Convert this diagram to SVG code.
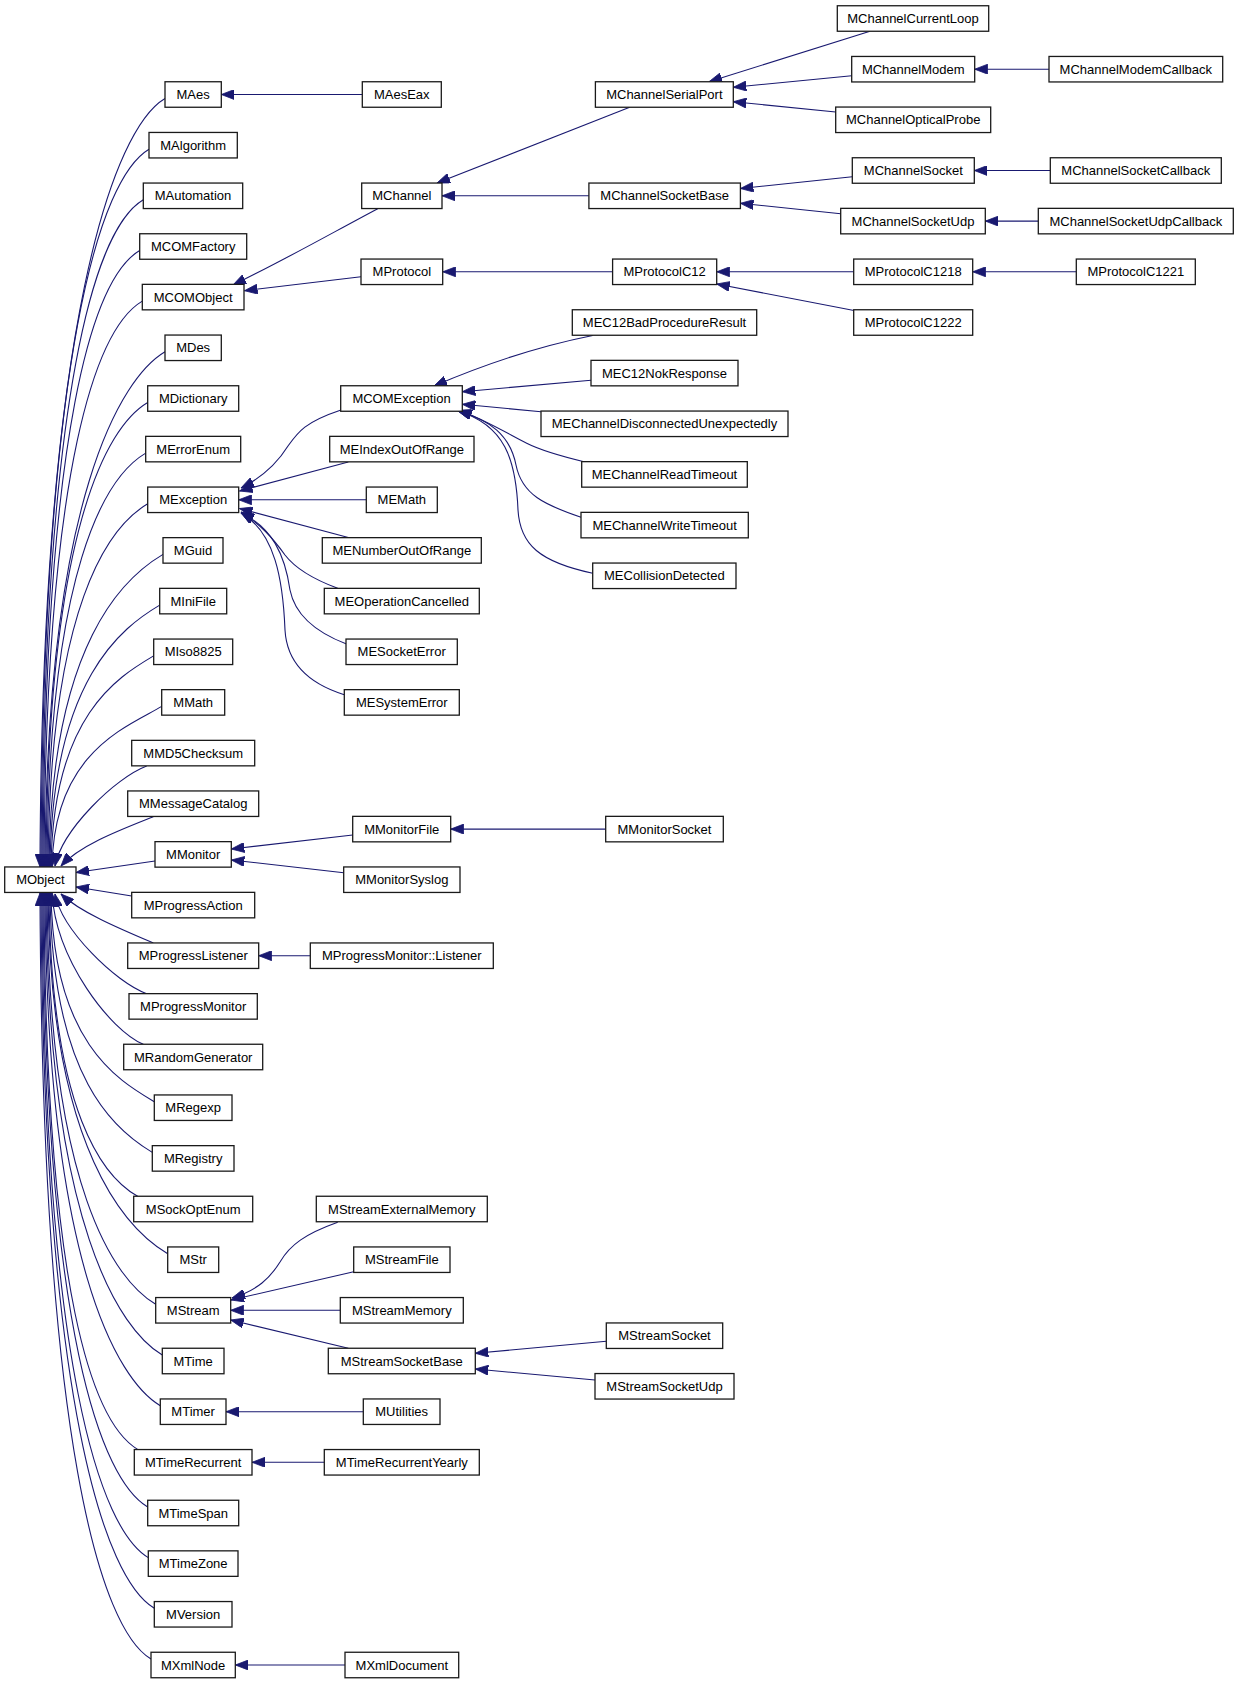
<svg xmlns="http://www.w3.org/2000/svg" width="1239" height="1684" viewBox="0 0 1239 1684">
<style>
.node rect{fill:#fff;stroke:#1a1a1a;stroke-width:1.3}
.node text{font-family:"Liberation Sans",Arial,sans-serif;font-size:13px;text-anchor:middle;fill:#000}
.edge path{fill:none;stroke:#191970;stroke-width:1.1;marker-end:url(#ah)}
</style>
<defs>
<marker id="ah" viewBox="0 0 14 10" refX="13" refY="5" markerWidth="14" markerHeight="10" markerUnits="userSpaceOnUse" orient="auto">
<path d="M0,0 L13,5 L0,10 z" fill="#191970" stroke="#191970" stroke-width="0.8"/>
</marker>
</defs>
<rect x="0" y="0" width="1239" height="1684" fill="#fff"/>
<g id="edges" class="edge">
<path d="M362.3,94.5 L221.3,94.5"/>
<path d="M377.7,208.7 C330,234 290,257 233,285"/>
<path d="M361,276.7 L244.5,290.7"/>
<path d="M629.7,107.3 L437,183"/>
<path d="M588.9,195.8 L442,195.8"/>
<path d="M870,31.3 L709,81.7"/>
<path d="M851.7,75.7 L733.3,87.3"/>
<path d="M835.7,112 L733.3,101.7"/>
<path d="M1049,69.2 L974.7,69.2"/>
<path d="M852.3,176.7 L740.4,188.5"/>
<path d="M840.7,213.7 L740.4,203.3"/>
<path d="M1050.3,170.5 L974.3,170.5"/>
<path d="M1038.3,221.1 L985.3,221.1"/>
<path d="M612.6,271.8 L442.7,271.8"/>
<path d="M853.7,271.8 L716.7,271.8"/>
<path d="M854,310.5 L716.7,284"/>
<path d="M1076.3,271.8 L972.7,271.8"/>
<path d="M341,410 C305,422 298,432 288,446 C278,462 265,476 241,488"/>
<path d="M348.3,462 L239.5,491"/>
<path d="M366.3,499.8 L238.7,499.8"/>
<path d="M348.3,537.5 L239.5,508.5"/>
<path d="M337.7,588.3 C310,578 295,568 285,555 C272,537 260,524 241,512"/>
<path d="M346.5,644 C315,632 295,615 290,590 C285,555 272,527 241,513"/>
<path d="M344.3,694.7 C310,684 287,665 285,630 C283,580 275,532 241,513"/>
<path d="M592.7,335.5 C545,345 490,362 434,386"/>
<path d="M591,380.3 L462.3,391.7"/>
<path d="M541,411.7 L462.3,404.3"/>
<path d="M585,462 C560,456 540,450 526.7,443.3 C505,432 485,420 459,410"/>
<path d="M581,517.3 C545,505 522,495 516,465 C510,435 490,420 458,411"/>
<path d="M592.7,573.3 C540,562 520,545 518,510 C516,460 505,425 458,411"/>
<path d="M352.7,835 L231.3,849"/>
<path d="M343.7,872.7 L231.3,860"/>
<path d="M605.7,829.1 L450.7,829.1"/>
<path d="M310.3,955.7 L258.7,955.7"/>
<path d="M337.7,1222.3 C305,1234 290,1245 280,1262 C270,1278 258,1290 232,1298"/>
<path d="M353.7,1271.7 L231,1300"/>
<path d="M340.3,1310.3 L230.7,1310.3"/>
<path d="M348.3,1348.3 L230.7,1320"/>
<path d="M606.3,1341.3 L475.3,1353.3"/>
<path d="M595,1380 L475.3,1369"/>
<path d="M363.3,1411.7 L226,1411.7"/>
<path d="M324.3,1462.3 L252,1462.3"/>
<path d="M345,1665 L235.3,1665"/>
<path d="M165,98.5 C115,128.1 42,314 40,867"/>
<path d="M149,149.2 C100.4,178 43,350.2 41,867"/>
<path d="M143.3,199.8 C96,227.9 44,386.6 42,867"/>
<path d="M139.7,250.5 C93.7,277.8 45,423.1 43,867"/>
<path d="M142.3,301.1 C97.6,327.6 46,459.6 44,867"/>
<path d="M165,351.8 C121.6,377.6 47,496.1 45,867"/>
<path d="M147.7,402.5 C105.6,427.4 48,532.6 46,867"/>
<path d="M145.7,453.1 C104.9,477.3 49,569 47,867"/>
<path d="M147.7,503.8 C108.2,527.2 50,605.5 48,867"/>
<path d="M163,554.4 C124.8,577 51,641.9 49,867"/>
<path d="M159.7,605.1 C122.8,627 52,678.4 50,867"/>
<path d="M153.7,655.8 C118.2,676.9 53,714.9 51,867"/>
<path d="M161.7,706.4 C127.5,726.7 54,751.4 52,867"/>
<path d="M146.7,766 C115,778 62,830 55,866"/>
<path d="M153.3,816.7 C120,830 80,845 61,866"/>
<path d="M155,861 L76,872.5"/>
<path d="M131.7,896 L76,887"/>
<path d="M153.3,943 C118,928 80,912 61,894"/>
<path d="M146.7,993.7 C115,982 62,930 55,894"/>
<path d="M143.3,1044.3 C110,1030 56,960 52,893"/>
<path d="M154.3,1101.7 C118.8,1080.6 53,1043.3 51,893"/>
<path d="M152.3,1152.4 C115.5,1130.6 52,1079.8 50,893"/>
<path d="M138,1196.5 C105,1178 51,1116 49,893"/>
<path d="M167.7,1253.7 C128.3,1230.3 50,1152.7 48,893"/>
<path d="M155.7,1304.3 C115,1280.2 49,1189.1 47,893"/>
<path d="M162.3,1355 C120.3,1330.1 48,1225.6 46,893"/>
<path d="M160.3,1405.7 C117,1380 47,1262.1 45,893"/>
<path d="M138,1449.6 C93.5,1423.2 46,1298.6 44,893"/>
<path d="M147.7,1507 C101.8,1479.8 45,1335.1 43,893"/>
<path d="M148.3,1557.6 C101.1,1529.6 44,1371.5 42,893"/>
<path d="M154.3,1608.3 C105.7,1579.5 43,1408 41,893"/>
<path d="M151,1659 C101.1,1629.4 42,1444.5 40,893"/>
</g>
<g id="nodes">
<g id="MAes" class="node"><rect x="165" y="81.75" width="56.3" height="25.5"/><text x="193.15" y="99.1">MAes</text></g>
<g id="MAlgorithm" class="node"><rect x="149" y="132.45" width="88.3" height="25.5"/><text x="193.15" y="149.8">MAlgorithm</text></g>
<g id="MAutomation" class="node"><rect x="143.3" y="183.05" width="99.4" height="25.5"/><text x="193" y="200.4">MAutomation</text></g>
<g id="MCOMFactory" class="node"><rect x="139.7" y="233.75" width="107" height="25.5"/><text x="193.2" y="251.1">MCOMFactory</text></g>
<g id="MCOMObject" class="node"><rect x="142.3" y="284.35" width="101.7" height="25.5"/><text x="193.15" y="301.7">MCOMObject</text></g>
<g id="MDes" class="node"><rect x="165" y="335.05" width="56.3" height="25.5"/><text x="193.15" y="352.4">MDes</text></g>
<g id="MDictionary" class="node"><rect x="147.7" y="385.75" width="91" height="25.5"/><text x="193.2" y="403.1">MDictionary</text></g>
<g id="MErrorEnum" class="node"><rect x="145.7" y="436.35" width="95" height="25.5"/><text x="193.2" y="453.7">MErrorEnum</text></g>
<g id="MException" class="node"><rect x="147.7" y="487.05" width="91" height="25.5"/><text x="193.2" y="504.4">MException</text></g>
<g id="MGuid" class="node"><rect x="163" y="537.65" width="60" height="25.5"/><text x="193" y="555">MGuid</text></g>
<g id="MIniFile" class="node"><rect x="159.7" y="588.35" width="67" height="25.5"/><text x="193.2" y="605.7">MIniFile</text></g>
<g id="MIso8825" class="node"><rect x="153.7" y="639.05" width="79" height="25.5"/><text x="193.2" y="656.4">MIso8825</text></g>
<g id="MMath" class="node"><rect x="161.7" y="689.65" width="63" height="25.5"/><text x="193.2" y="707">MMath</text></g>
<g id="MMD5Checksum" class="node"><rect x="131.7" y="740.35" width="123" height="25.5"/><text x="193.2" y="757.7">MMD5Checksum</text></g>
<g id="MMessageCatalog" class="node"><rect x="127.7" y="790.95" width="131" height="25.5"/><text x="193.2" y="808.3">MMessageCatalog</text></g>
<g id="MMonitor" class="node"><rect x="155" y="841.65" width="76.3" height="25.5"/><text x="193.15" y="859">MMonitor</text></g>
<g id="MObject" class="node"><rect x="4.7" y="866.95" width="71.3" height="25.5"/><text x="40.35" y="884.3">MObject</text></g>
<g id="MProgressAction" class="node"><rect x="131.7" y="892.35" width="123" height="25.5"/><text x="193.2" y="909.7">MProgressAction</text></g>
<g id="MProgressListener" class="node"><rect x="127.7" y="942.95" width="131" height="25.5"/><text x="193.2" y="960.3">MProgressListener</text></g>
<g id="MProgressMonitor" class="node"><rect x="129" y="993.65" width="128.3" height="25.5"/><text x="193.15" y="1011">MProgressMonitor</text></g>
<g id="MRandomGenerator" class="node"><rect x="123.7" y="1044.25" width="139" height="25.5"/><text x="193.2" y="1061.6">MRandomGenerator</text></g>
<g id="MRegexp" class="node"><rect x="154.3" y="1094.95" width="77.7" height="25.5"/><text x="193.15" y="1112.3">MRegexp</text></g>
<g id="MRegistry" class="node"><rect x="152.3" y="1145.65" width="81.7" height="25.5"/><text x="193.15" y="1163">MRegistry</text></g>
<g id="MSockOptEnum" class="node"><rect x="133.7" y="1196.25" width="119" height="25.5"/><text x="193.2" y="1213.6">MSockOptEnum</text></g>
<g id="MStr" class="node"><rect x="167.7" y="1246.95" width="51" height="25.5"/><text x="193.2" y="1264.3">MStr</text></g>
<g id="MStream" class="node"><rect x="155.7" y="1297.55" width="75" height="25.5"/><text x="193.2" y="1314.9">MStream</text></g>
<g id="MTime" class="node"><rect x="162.3" y="1348.25" width="61.7" height="25.5"/><text x="193.15" y="1365.6">MTime</text></g>
<g id="MTimer" class="node"><rect x="160.3" y="1398.95" width="65.7" height="25.5"/><text x="193.15" y="1416.3">MTimer</text></g>
<g id="MTimeRecurrent" class="node"><rect x="134.3" y="1449.55" width="117.7" height="25.5"/><text x="193.15" y="1466.9">MTimeRecurrent</text></g>
<g id="MTimeSpan" class="node"><rect x="147.7" y="1500.25" width="91" height="25.5"/><text x="193.2" y="1517.6">MTimeSpan</text></g>
<g id="MTimeZone" class="node"><rect x="148.3" y="1550.85" width="89.7" height="25.5"/><text x="193.15" y="1568.2">MTimeZone</text></g>
<g id="MVersion" class="node"><rect x="154.3" y="1601.55" width="77.7" height="25.5"/><text x="193.15" y="1618.9">MVersion</text></g>
<g id="MXmlNode" class="node"><rect x="151" y="1652.25" width="84.3" height="25.5"/><text x="193.15" y="1669.6">MXmlNode</text></g>
<g id="MAesEax" class="node"><rect x="362.3" y="81.75" width="79" height="25.5"/><text x="401.8" y="99.1">MAesEax</text></g>
<g id="MChannel" class="node"><rect x="361.7" y="183.05" width="80.3" height="25.5"/><text x="401.85" y="200.4">MChannel</text></g>
<g id="MProtocol" class="node"><rect x="361" y="259.05" width="81.7" height="25.5"/><text x="401.85" y="276.4">MProtocol</text></g>
<g id="MCOMException" class="node"><rect x="340.7" y="385.75" width="121.6" height="25.5"/><text x="401.5" y="403.1">MCOMException</text></g>
<g id="MEIndexOutOfRange" class="node"><rect x="329.7" y="436.35" width="144.3" height="25.5"/><text x="401.85" y="453.7">MEIndexOutOfRange</text></g>
<g id="MEMath" class="node"><rect x="366.3" y="487.05" width="71" height="25.5"/><text x="401.8" y="504.4">MEMath</text></g>
<g id="MENumberOutOfRange" class="node"><rect x="322.3" y="537.65" width="159" height="25.5"/><text x="401.8" y="555">MENumberOutOfRange</text></g>
<g id="MEOperationCancelled" class="node"><rect x="324.3" y="588.35" width="155" height="25.5"/><text x="401.8" y="605.7">MEOperationCancelled</text></g>
<g id="MESocketError" class="node"><rect x="346" y="639.05" width="111.3" height="25.5"/><text x="401.65" y="656.4">MESocketError</text></g>
<g id="MESystemError" class="node"><rect x="344.3" y="689.65" width="115" height="25.5"/><text x="401.8" y="707">MESystemError</text></g>
<g id="MMonitorFile" class="node"><rect x="352.7" y="816.35" width="98" height="25.5"/><text x="401.7" y="833.7">MMonitorFile</text></g>
<g id="MMonitorSyslog" class="node"><rect x="343.7" y="866.95" width="116.3" height="25.5"/><text x="401.85" y="884.3">MMonitorSyslog</text></g>
<g id="MProgressMonitor_Listener" class="node"><rect x="310.3" y="942.95" width="183" height="25.5"/><text x="401.8" y="960.3">MProgressMonitor::Listener</text></g>
<g id="MStreamExternalMemory" class="node"><rect x="316.3" y="1196.25" width="171" height="25.5"/><text x="401.8" y="1213.6">MStreamExternalMemory</text></g>
<g id="MStreamFile" class="node"><rect x="353.7" y="1246.95" width="96.3" height="25.5"/><text x="401.85" y="1264.3">MStreamFile</text></g>
<g id="MStreamMemory" class="node"><rect x="340.3" y="1297.55" width="123" height="25.5"/><text x="401.8" y="1314.9">MStreamMemory</text></g>
<g id="MStreamSocketBase" class="node"><rect x="328.3" y="1348.25" width="147" height="25.5"/><text x="401.8" y="1365.6">MStreamSocketBase</text></g>
<g id="MUtilities" class="node"><rect x="363.3" y="1398.95" width="76.7" height="25.5"/><text x="401.65" y="1416.3">MUtilities</text></g>
<g id="MTimeRecurrentYearly" class="node"><rect x="324.3" y="1449.55" width="155" height="25.5"/><text x="401.8" y="1466.9">MTimeRecurrentYearly</text></g>
<g id="MXmlDocument" class="node"><rect x="345" y="1652.25" width="113.7" height="25.5"/><text x="401.85" y="1669.6">MXmlDocument</text></g>
<g id="MChannelSerialPort" class="node"><rect x="595.4" y="81.75" width="137.9" height="25.5"/><text x="664.35" y="99.1">MChannelSerialPort</text></g>
<g id="MChannelSocketBase" class="node"><rect x="588.9" y="183.05" width="151.5" height="25.5"/><text x="664.65" y="200.4">MChannelSocketBase</text></g>
<g id="MProtocolC12" class="node"><rect x="612.6" y="259.05" width="104.1" height="25.5"/><text x="664.65" y="276.4">MProtocolC12</text></g>
<g id="MEC12BadProcedureResult" class="node"><rect x="572.3" y="309.75" width="184.4" height="25.5"/><text x="664.5" y="327.1">MEC12BadProcedureResult</text></g>
<g id="MEC12NokResponse" class="node"><rect x="591" y="360.35" width="147" height="25.5"/><text x="664.5" y="377.7">MEC12NokResponse</text></g>
<g id="MEChannelDisconnectedUnexpectedly" class="node"><rect x="541" y="411.05" width="247" height="25.5"/><text x="664.5" y="428.4">MEChannelDisconnectedUnexpectedly</text></g>
<g id="MEChannelReadTimeout" class="node"><rect x="581.7" y="461.65" width="165.6" height="25.5"/><text x="664.5" y="479">MEChannelReadTimeout</text></g>
<g id="MEChannelWriteTimeout" class="node"><rect x="581" y="512.35" width="167.3" height="25.5"/><text x="664.65" y="529.7">MEChannelWriteTimeout</text></g>
<g id="MECollisionDetected" class="node"><rect x="592.7" y="563.05" width="143.3" height="25.5"/><text x="664.35" y="580.4">MECollisionDetected</text></g>
<g id="MMonitorSocket" class="node"><rect x="605.7" y="816.35" width="117.6" height="25.5"/><text x="664.5" y="833.7">MMonitorSocket</text></g>
<g id="MStreamSocket" class="node"><rect x="606.3" y="1322.95" width="116.4" height="25.5"/><text x="664.5" y="1340.3">MStreamSocket</text></g>
<g id="MStreamSocketUdp" class="node"><rect x="595" y="1373.55" width="139" height="25.5"/><text x="664.5" y="1390.9">MStreamSocketUdp</text></g>
<g id="MChannelCurrentLoop" class="node"><rect x="837.3" y="5.75" width="151.4" height="25.5"/><text x="913" y="23.1">MChannelCurrentLoop</text></g>
<g id="MChannelModem" class="node"><rect x="851.7" y="56.45" width="123" height="25.5"/><text x="913.2" y="73.8">MChannelModem</text></g>
<g id="MChannelOpticalProbe" class="node"><rect x="835.7" y="107.05" width="155" height="25.5"/><text x="913.2" y="124.4">MChannelOpticalProbe</text></g>
<g id="MChannelSocket" class="node"><rect x="852.3" y="157.75" width="122" height="25.5"/><text x="913.3" y="175.1">MChannelSocket</text></g>
<g id="MChannelSocketUdp" class="node"><rect x="840.7" y="208.35" width="144.6" height="25.5"/><text x="913" y="225.7">MChannelSocketUdp</text></g>
<g id="MProtocolC1218" class="node"><rect x="853.7" y="259.05" width="119" height="25.5"/><text x="913.2" y="276.4">MProtocolC1218</text></g>
<g id="MProtocolC1222" class="node"><rect x="853.7" y="309.75" width="119" height="25.5"/><text x="913.2" y="327.1">MProtocolC1222</text></g>
<g id="MChannelModemCallback" class="node"><rect x="1049" y="56.45" width="173.7" height="25.5"/><text x="1135.85" y="73.8">MChannelModemCallback</text></g>
<g id="MChannelSocketCallback" class="node"><rect x="1050.3" y="157.75" width="171" height="25.5"/><text x="1135.8" y="175.1">MChannelSocketCallback</text></g>
<g id="MChannelSocketUdpCallback" class="node"><rect x="1038.3" y="208.35" width="195" height="25.5"/><text x="1135.8" y="225.7">MChannelSocketUdpCallback</text></g>
<g id="MProtocolC1221" class="node"><rect x="1076.3" y="259.05" width="119" height="25.5"/><text x="1135.8" y="276.4">MProtocolC1221</text></g>
</g>
</svg>
